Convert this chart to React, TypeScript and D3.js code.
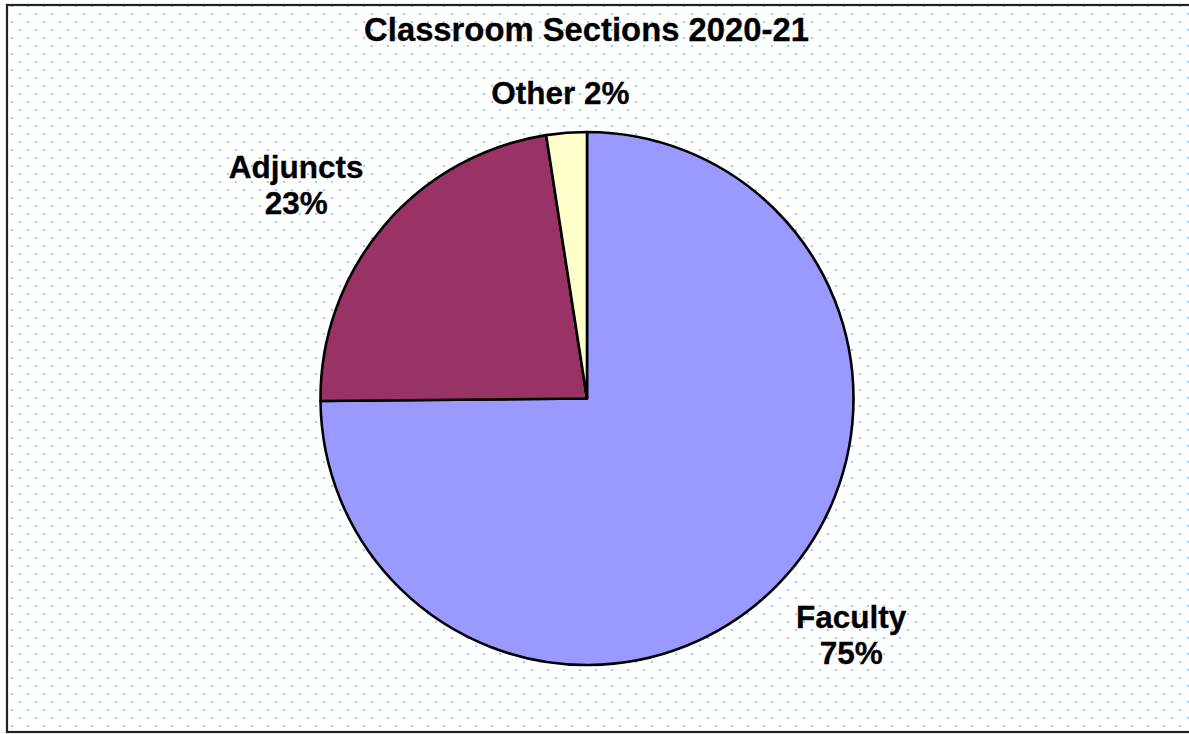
import React from "react";
import * as d3 from "d3";

const categories = ["Faculty", "Adjuncts", "Other"];
const shares = [74.85, 22.7, 2.45];
const colors = ["#9999FF", "#993366", "#FFFFCC"];
const title = "Classroom Sections 2020-21";

// layout only (not data): label nudges relative to an outer centroid
const labelNudge = [
  { dx: 37, dy: 4, twoLines: true },
  { dx: -47, dy: -14, twoLines: true },
  { dx: -2, dy: 24, twoLines: false },
];

const W = 1189;
const H = 734;
const cx = 587;
const cy = 398.5;
const R = 266.5;

export default function App() {
  const pie = d3
    .pie<number>()
    .sort(null)
    .value((d) => d)
    .startAngle(0)
    .endAngle(2 * Math.PI);
  const arcs = pie(shares);
  const arc = d3.arc<d3.PieArcDatum<number>>().innerRadius(0).outerRadius(R);
  const labelArc = d3
    .arc<d3.PieArcDatum<number>>()
    .innerRadius(R * 1.2)
    .outerRadius(R * 1.2);
  const total = d3.sum(shares);
  const pct = d3.format(".0%");
  const font = "'Liberation Sans', Arial, sans-serif";

  return (
    <svg
      width={W}
      height={H}
      style={{ position: "absolute", left: 0, top: 0, display: "block" }}
    >
      <defs>
        <pattern id="dots" patternUnits="userSpaceOnUse" width={16} height={16}>
          <rect x={11} y={5} width={2} height={2} fill="#99CCFF" />
          <rect x={3} y={13} width={2} height={2} fill="#99CCFF" />
        </pattern>
      </defs>
      <rect x={0} y={0} width={W} height={H} fill="#ffffff" />
      <rect x={7} y={5} width={W + 20} height={727} fill="url(#dots)" stroke="#222" strokeWidth={2.2} />
      <text
        x={586.5}
        y={41}
        textAnchor="middle"
        fontFamily={font}
        fontWeight="bold"
        fontSize={32.8}
        fill="#000"
        stroke="#000"
        strokeWidth={0.3}
      >
        {title}
      </text>
      <g transform={`translate(${cx},${cy})`}>
        {arcs.map((a, i) => (
          <path
            key={categories[i]}
            d={arc(a) || ""}
            fill={colors[i]}
            stroke="#000"
            strokeWidth={2.6}
            strokeLinejoin="round"
          />
        ))}
        {arcs.map((a, i) => {
          const [lx, ly] = labelArc.centroid(a);
          const n = labelNudge[i];
          const x = lx + n.dx;
          const y = ly + n.dy;
          const p = pct(a.data / total);
          return (
            <text
              key={"l" + categories[i]}
              x={x}
              y={y}
              textAnchor="middle"
              fontFamily={font}
              fontWeight="bold"
              fontSize={31.5}
              fill="#000"
              stroke="#000"
              strokeWidth={0.3}
            >
              {n.twoLines ? (
                <>
                  <tspan x={x} dy={0}>{categories[i]}</tspan>
                  <tspan x={x} dy={36.5}>{p}</tspan>
                </>
              ) : (
                `${categories[i]} ${p}`
              )}
            </text>
          );
        })}
      </g>
    </svg>
  );
}
